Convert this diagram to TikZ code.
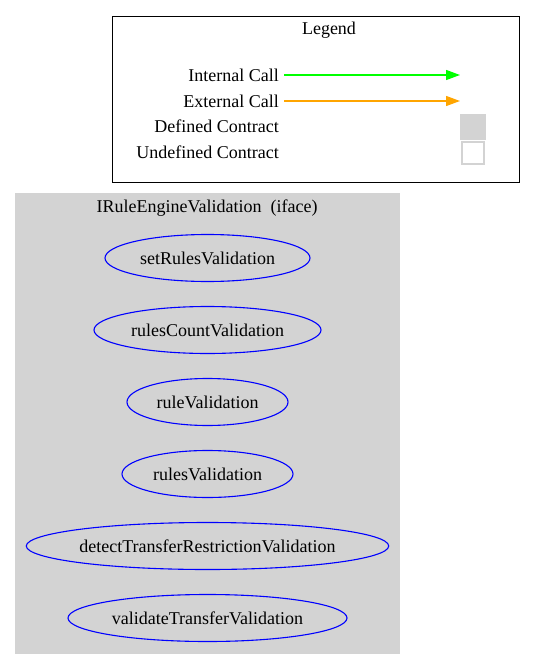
\documentclass[tikz,border=0pt]{standalone}
\usepackage{fontspec}
\setmainfont{Liberation Serif}
\usetikzlibrary{arrows.meta,shapes.geometric}
\definecolor{clustergray}{HTML}{D3D3D3}
\definecolor{callgreen}{HTML}{00FF00}
\definecolor{callorange}{HTML}{FFA500}
\tikzset{
  lbl/.style={font=\fontsize{18}{20}\selectfont, inner sep=0pt},
  llbl/.style={lbl, anchor=east},
  fn/.style={draw=blue, line width=1.1pt, ellipse, inner sep=0pt, minimum height=47pt, font=\fontsize{18}{20}\selectfont},
  callarrow/.style={line width=1.3pt, -{Triangle[length=14pt,width=10pt]}},
}
\begin{document}
\begin{tikzpicture}[x=1pt,y=-1pt]
\useasboundingbox (0,0) rectangle (536,669);
% legend
\node[draw=black, line width=1.1pt, minimum width=407pt, minimum height=166pt, inner sep=0pt, anchor=north west] (legend) at (112,16) {};
\node[lbl] (legtitle) at (329,30) {Legend};
\node[llbl] (intl) at (279,75) {Internal Call};
\node[llbl] (extl) at (279,101) {External Call};
\node[llbl] (defl) at (279,126) {Defined Contract};
\node[llbl] (undl) at (279,152) {Undefined Contract};
\coordinate (ia) at (284,75); \coordinate (ib) at (460,75);
\coordinate (ea) at (284,101); \coordinate (eb) at (460,101);
\draw[callarrow, color=callgreen] (ia) -- (ib);
\draw[callarrow, color=callorange] (ea) -- (eb);
\node[fill=clustergray, minimum width=26pt, minimum height=26pt, inner sep=0pt] (defbox) at (473,126.5) {};
\node[draw=clustergray, line width=1.1pt, minimum width=22pt, minimum height=22pt, inner sep=0pt] (undbox) at (473,153) {};
% cluster
\node[fill=clustergray, minimum width=385pt, minimum height=461pt, inner sep=0pt, anchor=north west] (cluster) at (15,193) {};
\node[lbl] (ctitle) at (207,208) {IRuleEngineValidation\ \ (iface)};
\node[fn, minimum width=205pt] (f1) at (207.5,258) {setRulesValidation};
\node[fn, minimum width=227pt] (f2) at (207.5,330) {rulesCountValidation};
\node[fn, minimum width=161pt] (f3) at (207.5,402) {ruleValidation};
\node[fn, minimum width=171pt] (f4) at (207.5,474) {rulesValidation};
\node[fn, minimum width=361pt] (f5) at (207.5,546) {detectTransferRestrictionValidation};
\node[fn, minimum width=279pt] (f6) at (207.5,618) {validateTransferValidation};
\end{tikzpicture}
\end{document}
